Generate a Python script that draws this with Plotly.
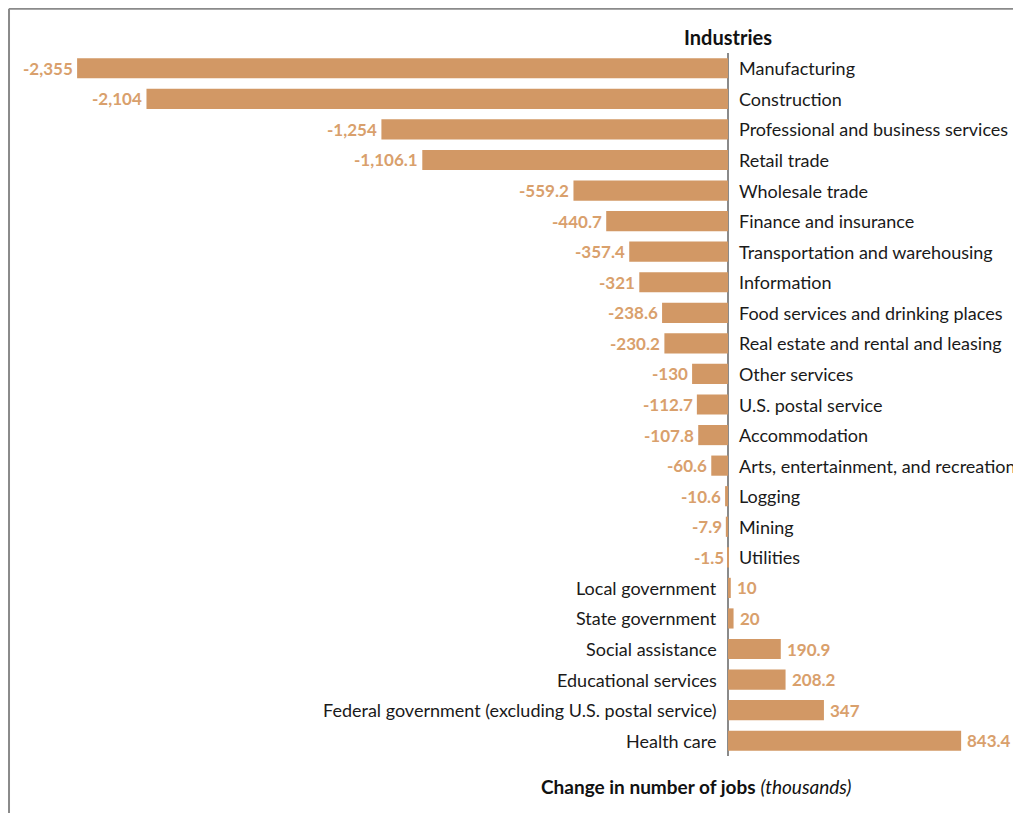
import plotly.graph_objects as go

industries = [
    "Manufacturing", "Construction", "Professional and business services",
    "Retail trade", "Wholesale trade", "Finance and insurance",
    "Transportation and warehousing", "Information",
    "Food services and drinking places", "Real estate and rental and leasing",
    "Other services", "U.S. postal service", "Accommodation",
    "Arts, entertainment, and recreation", "Logging", "Mining", "Utilities",
    "Local government", "State government", "Social assistance",
    "Educational services", "Federal government (excluding U.S. postal service)",
    "Health care",
]
changes = [
    -2355, -2104, -1254, -1106.1, -559.2, -440.7, -357.4, -321, -238.6,
    -230.2, -130, -112.7, -107.8, -60.6, -10.6, -7.9, -1.5,
    10, 20, 190.9, 208.2, 347, 843.4,
]
value_labels = [
    "-2,355", "-2,104", "-1,254", "-1,106.1", "-559.2", "-440.7", "-357.4",
    "-321", "-238.6", "-230.2", "-130", "-112.7", "-107.8", "-60.6", "-10.6",
    "-7.9", "-1.5", "10", "20", "190.9", "208.2", "347", "843.4",
]

BAR = "#d29865"
LABEL = "#d9a06c"
FONT = "Lato"

rows = list(range(len(industries)))

fig = go.Figure(go.Bar(
    x=changes, y=rows, orientation="h",
    marker=dict(color=BAR, line=dict(width=0)),
    width=0.66, hoverinfo="skip",
))

annotations = []
for i, (name, v, lab) in enumerate(zip(industries, changes, value_labels)):
    neg = v < 0
    # industry name on the opposite side of the zero line
    annotations.append(dict(
        x=0, y=i, xref="x", yref="y", text=name, showarrow=False,
        xanchor="left" if neg else "right", xshift=9 if neg else -9,
        font=dict(family=FONT, size=18, color="#1a1a1a"),
    ))
    # value just past the end of the bar
    annotations.append(dict(
        x=v, y=i, xref="x", yref="y", text=lab, showarrow=False,
        xanchor="right" if neg else "left", xshift=-2 if neg else 4,
        font=dict(family=FONT, size=17, color=LABEL, weight="bold"),
    ))

annotations.append(dict(
    x=0, y=1.0228, xref="x", yref="paper", text="<b>Industries</b>",
    showarrow=False, xanchor="center", yanchor="middle",
    font=dict(family=FONT, size=20, color="#111"),
))
annotations.append(dict(
    x=0.680, y=-0.0433, xref="paper", yref="paper",
    text="<b>Change in number of jobs</b> <i>(thousands)</i>",
    showarrow=False, xanchor="center", yanchor="middle",
    font=dict(family=FONT, size=19, color="#111"),
))

fig.update_layout(
    width=1013, height=805,
    margin=dict(l=0, r=0, t=45, b=57),
    paper_bgcolor="white", plot_bgcolor="white",
    showlegend=False, bargap=0.34,
    xaxis=dict(range=[-2605, 1060], showgrid=False, showticklabels=False,
               zeroline=True, zerolinecolor="#8a8a8a", zerolinewidth=2,
               fixedrange=True),
    yaxis=dict(range=[22.5, -0.5], showgrid=False, showticklabels=False,
               zeroline=False, fixedrange=True),
    annotations=annotations,
    shapes=[
        dict(type="line", xref="paper", yref="paper", x0=0.001, x1=0.001,
             y0=1.063, y1=-0.09, line=dict(color="#8a8a8a", width=2)),
        dict(type="line", xref="paper", yref="paper", x0=0.001, x1=1.0,
             y0=1.063, y1=1.063, line=dict(color="#8a8a8a", width=2)),
    ],
)

fig.write_html("out.html")
